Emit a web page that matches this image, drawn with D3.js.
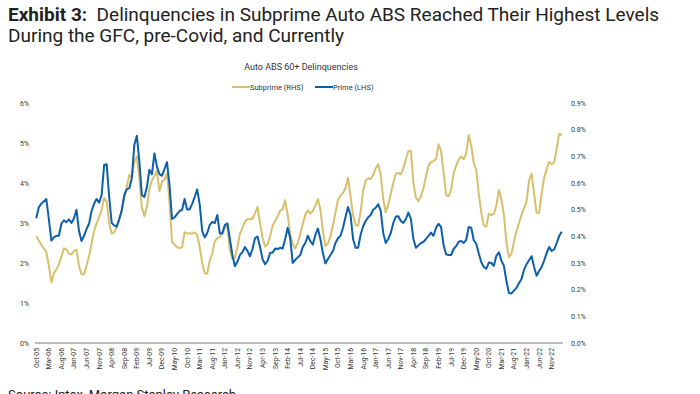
<!DOCTYPE html>
<html>
<head>
<meta charset="utf-8">
<script src="https://cdn.jsdelivr.net/npm/d3@7/dist/d3.min.js"></script>
<style>
  body { margin: 0; background: #fff; }
  svg { display: block; font-family: Roboto, "Liberation Sans", sans-serif; }
</style>
</head>
<body>
<svg id="chart" width="700" height="394"></svg>
<script>
// <========== data ==========>
const startMonth = new Date(2005, 9, 1); // Oct-05, monthly
const tickLabels = ["Oct-05","Mar-06","Aug-06","Jan-07","Jun-07","Nov-07","Apr-08","Sep-08","Feb-09","Jul-09",
  "Dec-09","May-10","Oct-10","Mar-11","Aug-11","Jan-12","Jun-12","Nov-12","Apr-13","Sep-13","Feb-14","Jul-14",
  "Dec-14","May-15","Oct-15","Mar-16","Aug-16","Jan-17","Jun-17","Nov-17","Apr-18","Sep-18","Feb-19","Jul-19",
  "Dec-19","May-20","Oct-20","Mar-21","Aug-21","Jan-22","Jun-22","Nov-22"];
const leftTicks = [0, 1, 2, 3, 4, 5, 6];
const rightTicks = [0, 0.1, 0.2, 0.3, 0.4, 0.5, 0.6, 0.7, 0.8, 0.9];

// Prime 60+ delinquencies (LHS, %)
const prime = [
  3.12,3.39,3.48,3.54,3.60,3.10,2.56,2.64,2.68,2.68,2.98,3.07,3.02,3.09,3.00,3.12,3.33,2.80,2.55,2.68,
  2.85,2.98,3.30,3.48,3.60,3.51,3.70,4.45,4.47,3.65,3.00,2.94,2.91,3.10,3.32,3.70,3.84,3.87,4.12,4.95,
  5.18,4.55,3.70,3.65,3.90,4.33,4.22,4.74,4.41,4.22,4.18,4.35,4.52,3.95,3.10,3.14,3.22,3.30,3.33,3.60,
  3.34,3.34,3.48,3.65,3.84,3.47,2.80,2.64,2.75,2.95,3.03,3.00,3.20,2.74,2.74,2.95,2.99,2.60,2.20,1.92,
  2.03,2.20,2.27,2.40,2.30,2.17,2.35,2.62,2.66,2.40,2.10,1.97,2.05,2.25,2.26,2.36,2.35,2.38,2.36,2.60,
  2.88,2.62,2.00,2.08,2.14,2.20,2.40,2.50,2.68,2.55,2.46,2.70,2.86,2.60,2.25,1.99,2.10,2.20,2.30,2.50,
  2.62,2.68,2.88,3.15,3.40,3.20,2.60,2.38,2.38,2.70,2.92,3.05,3.14,3.20,3.33,3.38,3.47,3.30,2.75,2.50,
  2.60,2.75,3.00,3.16,3.17,3.05,3.00,3.10,3.26,3.10,2.60,2.38,2.44,2.50,2.53,2.60,2.68,2.76,2.68,2.88,
  2.98,2.90,2.45,2.22,2.20,2.20,2.35,2.42,2.53,2.55,2.50,2.58,2.90,2.88,2.57,2.48,2.24,2.02,1.90,1.86,
  2.01,2.00,1.93,2.18,2.27,2.06,1.93,1.55,1.25,1.24,1.31,1.38,1.50,1.60,1.83,1.97,2.07,2.17,1.90,1.68,
  1.80,1.90,2.06,2.25,2.40,2.30,2.34,2.50,2.68,2.78
];

// Subprime 60+ delinquencies (RHS, %)
const subprime = [
  0.400,0.385,0.368,0.355,0.342,0.290,0.228,0.262,0.275,0.295,0.325,0.355,0.352,0.335,0.332,0.345,0.350,0.290,0.258,0.258,
  0.290,0.325,0.372,0.420,0.450,0.470,0.500,0.545,0.530,0.450,0.410,0.415,0.435,0.460,0.497,0.542,0.586,0.630,0.620,0.680,
  0.700,0.620,0.510,0.475,0.510,0.580,0.610,0.625,0.645,0.570,0.605,0.612,0.635,0.530,0.380,0.368,0.360,0.355,0.360,0.415,
  0.410,0.412,0.410,0.415,0.405,0.360,0.300,0.262,0.260,0.310,0.335,0.382,0.392,0.398,0.410,0.430,0.445,0.350,0.315,0.320,
  0.360,0.410,0.432,0.455,0.464,0.464,0.466,0.486,0.510,0.450,0.395,0.362,0.370,0.400,0.440,0.458,0.475,0.496,0.502,0.535,
  0.480,0.410,0.370,0.355,0.375,0.410,0.445,0.480,0.498,0.485,0.495,0.515,0.540,0.500,0.420,0.364,0.372,0.400,0.440,0.490,
  0.537,0.552,0.562,0.580,0.620,0.550,0.480,0.442,0.440,0.490,0.570,0.610,0.617,0.615,0.630,0.655,0.670,0.630,0.540,0.490,
  0.520,0.560,0.600,0.635,0.638,0.632,0.655,0.690,0.720,0.720,0.600,0.545,0.532,0.550,0.580,0.625,0.665,0.678,0.682,0.690,
  0.745,0.720,0.640,0.555,0.550,0.575,0.635,0.665,0.688,0.700,0.690,0.710,0.780,0.740,0.675,0.648,0.560,0.490,0.440,0.436,
  0.485,0.480,0.484,0.515,0.574,0.540,0.480,0.380,0.322,0.335,0.380,0.420,0.450,0.480,0.505,0.530,0.610,0.635,0.560,0.488,
  0.488,0.560,0.620,0.650,0.680,0.670,0.678,0.730,0.785,0.780
];

const months = d3.timeMonth.range(startMonth, d3.timeMonth.offset(startMonth, prime.length));

// <========== layout ==========>
const svg = d3.select("#chart");
const plot = { left: 35, right: 563, top: 103, bottom: 343 };
const goldColor = "#d9bf6c";
const blueColor = "#0b5fad";

const x = d3.scaleBand().domain(d3.range(months.length)).range([plot.left, plot.right]);
const yLeft = d3.scaleLinear().domain([0, 6]).range([plot.bottom, plot.top]);
const yRight = d3.scaleLinear().domain([0, 0.9]).range([plot.bottom, plot.top]);
const cx = (i) => x(i) + x.bandwidth() / 2;

// title
const title = svg.append("text").attr("x", 8).attr("y", 21)
  .attr("font-size", 19).attr("fill", "#222");
title.append("tspan").attr("font-weight", "bold").text("Exhibit 3:");
title.append("tspan").text("\u00a0 Delinquencies in Subprime Auto ABS Reached Their Highest Levels");
svg.append("text").attr("x", 8).attr("y", 42).attr("font-size", 19).attr("fill", "#222")
  .text("During the GFC, pre-Covid, and Currently");

// chart header + legend
svg.append("text").attr("x", 301).attr("y", 70).attr("text-anchor", "middle")
  .attr("font-size", 9).attr("fill", "#333").text("Auto ABS 60+ Delinquencies");

const legend = [
  { name: "Subprime (RHS)", color: goldColor, x: 232 },
  { name: "Prime (LHS)", color: blueColor, x: 315 }
];
const lg = svg.append("g").selectAll("g").data(legend).enter().append("g")
  .attr("transform", (d) => `translate(${d.x},87)`);
lg.append("line").attr("x1", 0).attr("x2", 18).attr("stroke", (d) => d.color).attr("stroke-width", 2);
lg.append("text").attr("x", 18).attr("y", 2.5).attr("font-size", 7.5).attr("fill", "#333").text((d) => d.name);

// left axis labels
svg.append("g").selectAll("text").data(leftTicks).enter().append("text")
  .attr("x", 20).attr("y", (d) => yLeft(d) + 2.5)
  .attr("font-size", 7).attr("fill", "#333").text((d) => d + "%");

// right axis labels
svg.append("g").selectAll("text").data(rightTicks).enter().append("text")
  .attr("x", 571).attr("y", (d) => yRight(d) + 2.5)
  .attr("font-size", 7).attr("fill", "#333").text((d) => d.toFixed(1) + "%");

// baseline
svg.append("line").attr("x1", plot.left).attr("x2", plot.right)
  .attr("y1", plot.bottom).attr("y2", plot.bottom)
  .attr("stroke", "#a6a6a6").attr("stroke-width", 1.3);

// x tick labels, every 5th month
svg.append("g").selectAll("text").data(tickLabels).enter().append("text")
  .attr("transform", (d, k) => `translate(${cx(k * 5) + 2.5},348) rotate(-90)`)
  .attr("text-anchor", "end").attr("font-size", 6.8).attr("fill", "#333").text((d) => d);

// lines
const lineSub = d3.line().x((d, i) => cx(i)).y((d) => yRight(d));
const linePrime = d3.line().x((d, i) => cx(i)).y((d) => yLeft(d));

svg.append("path").datum(subprime).attr("d", lineSub)
  .attr("fill", "none").attr("stroke", goldColor).attr("stroke-width", 2).attr("stroke-linejoin", "round");
svg.append("path").datum(prime).attr("d", linePrime)
  .attr("fill", "none").attr("stroke", blueColor).attr("stroke-width", 2).attr("stroke-linejoin", "round");

// source
svg.append("text").attr("x", 8).attr("y", 399).attr("font-size", 13).attr("fill", "#222")
  .text("Source: Intex, Morgan Stanley Research");
</script>
</body>
</html>
